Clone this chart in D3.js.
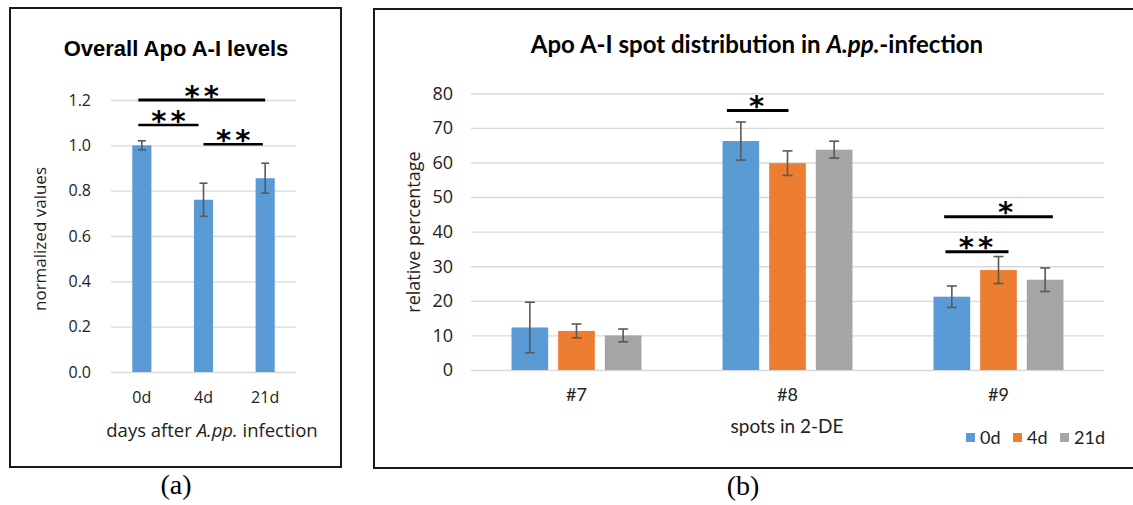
<!DOCTYPE html>
<html>
<head>
<meta charset="utf-8">
<script src="https://cdn.jsdelivr.net/npm/d3@7"></script>
<style>
  body { margin: 0; background: #fff; }
  svg { display: block; }
</style>
</head>
<body>
<div id="chart"></div>
<script>
// panel (a) data
const daysA = ["0d", "4d", "21d"];
const levelsA = [1.0, 0.76, 0.855];
const errorsA = [0.02, 0.073, 0.066];
const ticksA = [0, 0.2, 0.4, 0.6, 0.8, 1.0, 1.2];

// panel (b) data
const spots = ["#7", "#8", "#9"];
const seriesB = ["0d", "4d", "21d"];
const pct0d = [12.3, 66.2, 21.2];
const pct4d = [11.3, 59.8, 28.9];
const pct21d = [10.0, 63.7, 26.1];
const err0d = [7.3, 5.5, 3.1];
const err4d = [2.0, 3.55, 3.9];
const err21d = [1.85, 2.45, 3.4];
const ticksB = [0, 10, 20, 30, 40, 50, 60, 70, 80];

// significance marks (level in data units)
const sigA = [
  { from: "0d", to: "21d", level: 1.2, label: "**" },
  { from: "0d", to: "4d", level: 1.09, label: "**" },
  { from: "4d", to: "21d", level: 1.005, label: "**" }
];
const sigB = [
  { spot: "#8", from: "0d", to: "4d", level: 75, label: "*" },
  { spot: "#9", from: "0d", to: "21d", level: 44.3, label: "*" },
  { spot: "#9", from: "0d", to: "4d", level: 34.2, label: "**" }
];

const colors = { "0d": "#5b9bd5", "4d": "#ed7d31", "21d": "#a5a5a5" };
const gridColor = "#d9d9d9";
const errColor = "#595959";
const sansA = "'Open Sans', sans-serif";
const sansB = "Lato, sans-serif";
const starFont = "'DejaVu Sans', sans-serif";

var svg = d3.select("#chart").append("svg")
  .attr("width", 1133).attr("height", 505);

// ---------- panel (a) ----------
svg.append("rect")
  .attr("x", 10).attr("y", 8).attr("width", 331).attr("height", 459)
  .attr("fill", "none").attr("stroke", "#1a1a1a").attr("stroke-width", 2);

var xA = d3.scaleBand().domain(daysA).range([111, 296]).paddingInner(0.69).paddingOuter(0.345);
var yA = d3.scaleLinear().domain([0, 1.2]).range([372, 100]);

var gridA = svg.append("g")
  .attr("transform", "translate(111,0)")
  .call(d3.axisLeft(yA).tickValues(ticksA).tickSize(-185).tickFormat(d3.format(".1f")).tickPadding(20));
gridA.select(".domain").remove();
gridA.selectAll("line").attr("stroke", gridColor).attr("stroke-width", 1.4);
gridA.selectAll("text").attr("font-family", sansA).attr("font-size", 16).attr("fill", "#222");

svg.append("g").selectAll("rect")
  .data(daysA)
  .enter().append("rect")
  .attr("x", d => xA(d))
  .attr("y", (d, i) => yA(levelsA[i]))
  .attr("width", xA.bandwidth())
  .attr("height", (d, i) => yA(0) - yA(levelsA[i]))
  .attr("fill", colors["0d"]);

function errorBar(g, cx, yTop, yBot, cap) {
  g.append("line").attr("x1", cx).attr("x2", cx).attr("y1", yTop).attr("y2", yBot);
  g.append("line").attr("x1", cx - cap).attr("x2", cx + cap).attr("y1", yTop).attr("y2", yTop);
  g.append("line").attr("x1", cx - cap).attr("x2", cx + cap).attr("y1", yBot).attr("y2", yBot);
}

var errGA = svg.append("g").attr("stroke", errColor).attr("stroke-width", 1.6);
daysA.forEach(function(d, i) {
  var cx = xA(d) + xA.bandwidth() / 2;
  errorBar(errGA, cx, yA(levelsA[i] + errorsA[i]), yA(levelsA[i] - errorsA[i]), 4);
});

// x tick labels
svg.append("g").selectAll("text")
  .data(daysA)
  .enter().append("text")
  .attr("x", d => xA(d) + xA.bandwidth() / 2)
  .attr("y", 403)
  .attr("text-anchor", "middle")
  .attr("font-family", sansA).attr("font-size", 16).attr("fill", "#222")
  .text(d => d);

// titles
svg.append("text")
  .attr("x", 176).attr("y", 56).attr("text-anchor", "middle")
  .attr("font-family", "'Liberation Sans', Arial, sans-serif").attr("font-weight", "bold").attr("font-size", 22)
  .text("Overall Apo A-I levels");

var xtA = svg.append("text")
  .attr("x", 212).attr("y", 437).attr("text-anchor", "middle")
  .attr("font-family", sansA).attr("font-size", 18.5).attr("fill", "#222");
xtA.append("tspan").text("days after ");
xtA.append("tspan").attr("font-style", "italic").text("A.pp.");
xtA.append("tspan").text(" infection");

svg.append("text")
  .attr("transform", "translate(40,239) rotate(-90)")
  .attr("dy", "0.35em").attr("text-anchor", "middle")
  .attr("font-family", sansA).attr("font-size", 17).attr("fill", "#222")
  .text("normalized values");

// significance
var bwA = xA.bandwidth();
sigA.forEach(function(s, i) {
  var offs = [[-3.5, 0], [-3.5, -5], [0, -2.3]][i];
  var x1 = xA(s.from) + bwA / 2 + offs[0];
  var x2 = xA(s.to) + bwA / 2 + offs[1];
  var yy = yA(s.level);
  svg.append("line").attr("x1", x1).attr("x2", x2).attr("y1", yy).attr("y2", yy)
    .attr("stroke", "#000").attr("stroke-width", i === 0 ? 3 : 2.5);
  svg.append("text")
    .attr("x", (x1 + x2) / 2 + 2).attr("y", yy + 6)
    .attr("text-anchor", "middle")
    .attr("font-family", starFont).attr("font-weight", "bold").attr("font-size", 29)
    .attr("letter-spacing", 4)
    .text(s.label);
});

svg.append("text")
  .attr("x", 176).attr("y", 494).attr("text-anchor", "middle")
  .attr("font-family", "'Liberation Serif', 'Times New Roman', serif").attr("font-size", 28)
  .text("(a)");

// ---------- panel (b) ----------
svg.append("rect")
  .attr("x", 374).attr("y", 9).attr("width", 770).attr("height", 459)
  .attr("fill", "none").attr("stroke", "#1a1a1a").attr("stroke-width", 2);

var xB = d3.scaleBand().domain(spots).range([471, 1104]).paddingInner(0.384).paddingOuter(0.192);
var xB1 = d3.scaleBand().domain(seriesB).range([0, xB.bandwidth()]).paddingInner(0.214);
var yB = d3.scaleLinear().domain([0, 80]).range([370, 93.3]);

var gridB = svg.append("g")
  .attr("transform", "translate(471,0)")
  .call(d3.axisLeft(yB).tickValues(ticksB).tickSize(-633).tickPadding(18));
gridB.select(".domain").remove();
gridB.selectAll("line").attr("stroke", gridColor).attr("stroke-width", 1.4);
gridB.selectAll("text").attr("font-family", sansA).attr("font-size", 18).attr("fill", "#222");

var valuesB = { "0d": pct0d, "4d": pct4d, "21d": pct21d };
var errorsB = { "0d": err0d, "4d": err4d, "21d": err21d };

var groups = svg.append("g").selectAll("g")
  .data(spots)
  .enter().append("g")
  .attr("transform", d => "translate(" + xB(d) + ",0)");

groups.selectAll("rect")
  .data((d, i) => seriesB.map(s => ({ key: s, value: valuesB[s][i], err: errorsB[s][i] })))
  .enter().append("rect")
  .attr("x", d => xB1(d.key))
  .attr("y", d => yB(d.value))
  .attr("width", xB1.bandwidth())
  .attr("height", d => yB(0) - yB(d.value))
  .attr("fill", d => colors[d.key]);

var errGB = svg.append("g").attr("stroke", errColor).attr("stroke-width", 1.6);
spots.forEach(function(sp, i) {
  seriesB.forEach(function(s) {
    var cx = xB(sp) + xB1(s) + xB1.bandwidth() / 2;
    var v = valuesB[s][i], e = errorsB[s][i];
    errorBar(errGB, cx, yB(v + e), yB(v - e), 5);
  });
});

svg.append("g").selectAll("text")
  .data(spots)
  .enter().append("text")
  .attr("x", d => xB(d) + xB.bandwidth() / 2)
  .attr("y", 401)
  .attr("text-anchor", "middle")
  .attr("font-family", sansB).attr("font-size", 18).attr("fill", "#222")
  .text(d => d);

var ttB = svg.append("text")
  .attr("x", 757).attr("y", 53).attr("text-anchor", "middle")
  .attr("font-family", sansB).attr("font-weight", "bold").attr("font-size", 24);
ttB.append("tspan").text("Apo A-I spot distribution in ");
ttB.append("tspan").attr("font-style", "italic").text("A.pp.");
ttB.append("tspan").text("-infection");

svg.append("text")
  .attr("x", 787).attr("y", 433).attr("text-anchor", "middle")
  .attr("font-family", sansB).attr("font-size", 19).attr("fill", "#222")
  .text("spots in 2-DE");

svg.append("text")
  .attr("transform", "translate(414,232) rotate(-90)")
  .attr("dy", "0.35em").attr("text-anchor", "middle")
  .attr("font-family", sansA).attr("font-size", 18).attr("fill", "#222")
  .text("relative percentage");

// legend
var legendX = [966, 1013, 1060];
var legend = svg.append("g").selectAll("g")
  .data(seriesB)
  .enter().append("g")
  .attr("transform", (d, i) => "translate(" + legendX[i] + ",433)");
legend.append("rect").attr("width", 9).attr("height", 9).attr("fill", d => colors[d]);
legend.append("text")
  .attr("x", 14).attr("y", 10.5)
  .attr("font-family", sansB).attr("font-size", 18).attr("fill", "#222")
  .text(d => d);

// significance
var bwB = xB1.bandwidth();
sigB.forEach(function(s, i) {
  var offs = [[-14, 1], [-7.7, 7.7], [-6.4, 10]][i];
  var x1 = xB(s.spot) + xB1(s.from) + bwB / 2 + offs[0];
  var x2 = xB(s.spot) + xB1(s.to) + bwB / 2 + offs[1];
  var yy = yB(s.level);
  var tx = i === 1 ? (x1 + x2) / 2 + 9 : (x1 + x2) / 2 + 1;
  svg.append("line").attr("x1", x1).attr("x2", x2).attr("y1", yy).attr("y2", yy)
    .attr("stroke", "#000").attr("stroke-width", 3);
  svg.append("text")
    .attr("x", tx).attr("y", yy + 5)
    .attr("text-anchor", "middle")
    .attr("font-family", starFont).attr("font-weight", "bold").attr("font-size", 29)
    .attr("letter-spacing", 4)
    .text(s.label);
});

svg.append("text")
  .attr("x", 743).attr("y", 495).attr("text-anchor", "middle")
  .attr("font-family", "'Liberation Serif', 'Times New Roman', serif").attr("font-size", 28)
  .text("(b)");
</script>
</body>
</html>
